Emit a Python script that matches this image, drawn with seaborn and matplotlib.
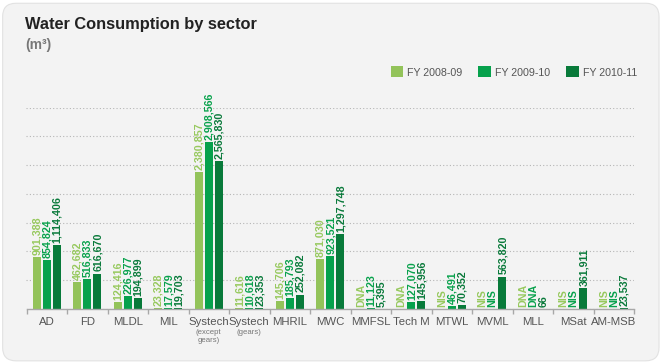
import numpy as np
import pandas as pd
import seaborn as sns
import matplotlib
matplotlib.use("Agg")
import matplotlib.pyplot as plt
from matplotlib.patches import FancyBboxPatch, Patch
from matplotlib.ticker import MultipleLocator, FixedLocator

# ---------------- data ----------------
categories = ["AD", "FD", "MLDL", "MIL", "Systech (except gears)", "Systech (gears)",
              "MHRIL", "MWC", "MMFSL", "Tech M", "MTWL", "MVML", "MLL", "MSat", "AM-MSB"]
tick_labels = ["AD", "FD", "MLDL", "MIL", "Systech", "Systech", "MHRIL", "MWC",
               "MMFSL", "Tech M", "MTWL", "MVML", "MLL", "MSat", "AM-MSB"]
tick_sublabels = ["", "", "", "", "(except\ngears)", "(gears)", "", "", "", "", "", "", "", "", ""]
series = ["FY 2008-09", "FY 2009-10", "FY 2010-11"]

fy0809 = [901388, 462682, 124416, 23328, 2380857, 11616, 145706, 871030,
          None, None, None, None, None, None, None]
fy0910 = [854824, 516833, 226977, 17579, 2908566, 10618, 185793, 923521,
          11123, 127070, 46491, None, None, None, None]
fy1011 = [1114406, 616670, 194899, 19703, 2565830, 23353, 252082, 1297748,
          5395, 145956, 70352, 563820, 66, 361911, 23537]
# status text shown where no value is reported
fy0809_note = ["", "", "", "", "", "", "", "", "DNA", "DNA", "NIS", "NIS", "DNA", "NIS", "NIS"]
fy0910_note = ["", "", "", "", "", "", "", "", "", "", "", "NIS", "DNA", "NIS", "NIS"]
fy1011_note = [""] * 15

bar_colors = ["#93C35A", "#06A14C", "#087A3A"]
label_colors = ["#97C95E", "#08A24C", "#0A7A3B"]

# ---------------- frame ----------------
FONT = ["Liberation Sans", "DejaVu Sans"]
plt.rcParams["font.family"] = FONT

W, H = 663, 363
fig = plt.figure(figsize=(W / 100, H / 100), dpi=100, facecolor="white")
bg = FancyBboxPatch((0.004, 0.006), 0.99, 0.985, boxstyle="round,pad=0,rounding_size=0.02",
                    transform=fig.transFigure, facecolor="#F3F3F3", edgecolor="#E2E2E2",
                    linewidth=0.8, zorder=-10, mutation_aspect=W / H)
fig.patches.append(bg)

ax = fig.add_axes([26.5 / W, (H - 309) / H, 607.5 / W, 201.3 / H])
ax.set_facecolor("none")

values = [fy0809, fy0910, fy1011]
rows = []
for s, vals in zip(series, values):
    for c, v in zip(categories, vals):
        rows.append({"cat": c, "series": s, "value": 0.0 if v is None else float(v)})
df = pd.DataFrame(rows)

sns.barplot(data=df, x="cat", y="value", hue="series", order=categories, hue_order=series,
            palette=bar_colors, saturation=1, width=0.75, gap=0.2, ax=ax, legend=False,
            errorbar=None, linewidth=0)

ax.set_xlim(-0.5, len(categories) - 0.5)
ax.set_ylim(0, 3500000)
ax.yaxis.set_major_locator(MultipleLocator(500000))
ax.grid(axis="y", linestyle=(0, (1, 2)), color="#B5B5B5", linewidth=0.8)
ax.set_axisbelow(True)
for sp in ["top", "right", "left"]:
    ax.spines[sp].set_visible(False)
ax.spines["bottom"].set_color("#A8A8A8")
ax.spines["bottom"].set_linewidth(1.0)
ax.tick_params(axis="y", left=False, labelleft=False)
ax.set_ylim(0, 3500000)
ax.set_xlabel("")
ax.set_ylabel("")

ax.set_xticks(range(len(categories)))
ax.set_xticklabels(tick_labels, fontsize=8.2, color="#555555")
ax.tick_params(axis="x", which="major", length=0, pad=5.5)
ax.xaxis.set_minor_locator(FixedLocator(np.arange(-0.5, len(categories), 1.0)))
ax.tick_params(axis="x", which="minor", length=3.5, color="#A8A8A8", width=1.0)

for x, sub in zip(ax.get_xticks(), tick_sublabels):
    if sub:
        ax.text(x, -0.1, sub, transform=ax.get_xaxis_transform(), ha="center", va="top",
                fontsize=5.6, color="#777777", linespacing=1.2)

# value labels
notes = [fy0809_note, fy0910_note, fy1011_note]
for container, vals, nts, col in zip(ax.containers, values, notes, label_colors):
    for bar, v, n in zip(container, vals, nts):
        txt = f"{v:,}" if v is not None else n
        xc = bar.get_x() + bar.get_width() / 2
        top = bar.get_height()
        ax.annotate(txt, (xc, top), xytext=(0.3, 1.5), textcoords="offset points",
                    rotation=90, ha="center", va="bottom", fontsize=7.7,
                    fontweight="bold", color=col, clip_on=False, annotation_clip=False)

# title
fig.text(25 / W, 1 - 28.5 / H, "Water Consumption by sector", fontsize=11.8,
         fontweight="bold", color="#222222", va="baseline", ha="left")
fig.text(25 / W, 1 - 49 / H, "(m³)", fontsize=10, fontweight="bold", color="#777777",
         va="baseline", ha="left")

# legend
handles = [Patch(facecolor=c, edgecolor="none", label=s) for c, s in zip(bar_colors, series)]
fig.legend(handles=handles, loc="center right", bbox_to_anchor=(637 / W, 1 - 72 / H),
           ncol=3, frameon=False, fontsize=7.7, handlelength=1.2, handleheight=1.2,
           handletextpad=0.35, columnspacing=1.5, borderpad=0, borderaxespad=0,
           labelcolor="#555555")

fig.savefig("out.png", dpi=100, facecolor=fig.get_facecolor())
